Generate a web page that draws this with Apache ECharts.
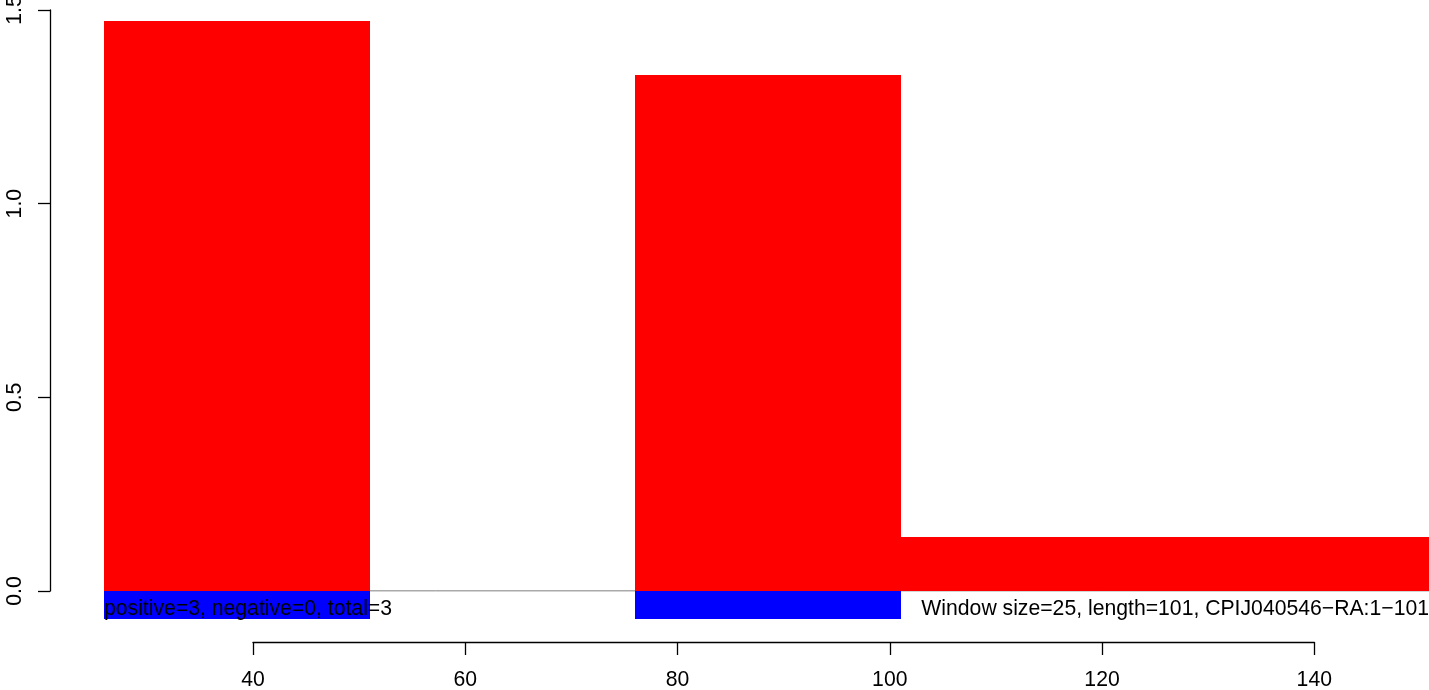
<!DOCTYPE html>
<html>
<head>
<meta charset="utf-8">
<script src="https://cdn.jsdelivr.net/npm/echarts@6/dist/echarts.min.js"></script>
<style>
html,body{margin:0;padding:0;background:#fff;}
#chart{width:1429px;height:690px;}
</style>
</head>
<body>
<div id="chart"></div>
<script>
// Window data (sequence positions)
const winStart = [26, 51, 76, 101, 126];
const winEnd   = [51, 76, 101, 126, 151];
const posVals  = [1.472, 0, 1.332, 0.139, 0.139];
const negVals  = [-0.072, 0, -0.072, 0, 0];
const xTicks   = [40, 60, 80, 100, 120, 140];
const yTicks   = [0, 0.5, 1.0, 1.5];
const leftText  = 'positive=3, negative=0, total=3';
const rightText = 'Window size=25, length=101, CPIJ040546\u2212RA:1\u2212101';

const FONT = "'Liberation Sans', Arial, Helvetica, sans-serif";
const FS = 21.2;

const chart = echarts.init(document.getElementById('chart'), null, {renderer: 'canvas'});

function rectRender(color) {
  return function (params, api) {
    const s = api.value(0), e = api.value(1), v = api.value(2);
    if (v === 0) return null;
    const p0 = api.coord([s, 0]);
    const p1 = api.coord([e, v]);
    const x0 = Math.round(p0[0]), x1 = Math.round(p1[0]);
    const y0 = Math.round(p0[1]), y1 = Math.round(p1[1]);
    return {
      type: 'rect',
      shape: {
        x: x0,
        y: Math.min(y0, y1),
        width: x1 - x0,
        height: Math.abs(y1 - y0)
      },
      style: { fill: color }
    };
  };
}

const posData = winStart.map((s, i) => [s, winEnd[i], posVals[i]]);
const negData = winStart.map((s, i) => [s, winEnd[i], negVals[i]]);

const option = {
  animation: false,
  backgroundColor: '#ffffff',
  textStyle: { fontFamily: FONT },
  grid: [
    { left: 104, width: 1328.4, top: 10, height: 581, containLabel: false, outerBoundsMode: 'none' },
    { left: 253, width: 1061.3, top: 600, height: 42, containLabel: false, outerBoundsMode: 'none' }
  ],
  xAxis: [
    { type: 'value', gridIndex: 0, min: winStart[0], max: winEnd[winEnd.length - 1], show: false },
    {
      type: 'value', gridIndex: 1, min: xTicks[0], max: xTicks[xTicks.length - 1], interval: 20,
      position: 'bottom',
      axisLine: { show: true, lineStyle: { color: '#000', width: 1.3 } },
      axisTick: { show: true, length: 13, lineStyle: { color: '#000', width: 1.3 } },
      axisLabel: { show: true, color: '#000', fontSize: FS, fontFamily: FONT, margin: 28 },
      splitLine: { show: false }
    }
  ],
  yAxis: [
    {
      type: 'value', gridIndex: 0, min: yTicks[0], max: yTicks[yTicks.length - 1], interval: 0.5,
      position: 'left', offset: 54,
      axisLine: { show: true, lineStyle: { color: '#000', width: 1.3 } },
      axisTick: { show: true, length: 12, lineStyle: { color: '#000', width: 1.3 } },
      axisLabel: {
        show: true, color: '#000', fontSize: FS, fontFamily: FONT, rotate: 90, margin: 24,
        formatter: v => v.toFixed(1)
      },
      splitLine: { show: false }
    },
    { type: 'value', gridIndex: 1, show: false, min: 0, max: 1 }
  ],
  series: [
    {
      type: 'line', xAxisIndex: 0, yAxisIndex: 0,
      data: [[winStart[0], 0], [winEnd[winEnd.length - 1], 0]],
      symbol: 'none', lineStyle: { color: '#555', width: 1 }, z: 1, silent: true
    },
    {
      type: 'custom', xAxisIndex: 0, yAxisIndex: 0, clip: false,
      renderItem: rectRender('#ff0000'),
      encode: { x: [0, 1], y: 2 },
      data: posData, z: 2
    },
    {
      type: 'custom', xAxisIndex: 0, yAxisIndex: 0, clip: false,
      renderItem: rectRender('#0000ff'),
      encode: { x: [0, 1], y: 2 },
      data: negData, z: 2
    }
  ],
  graphic: [
    {
      type: 'text', left: 104, top: 599, z: 10,
      style: { text: leftText, fill: '#000', font: FS + 'px ' + FONT }
    },
    {
      type: 'text', right: 0, top: 599, z: 10,
      style: { text: rightText, fill: '#000', font: FS + 'px ' + FONT }
    }
  ]
};

chart.setOption(option);
</script>
</body>
</html>
